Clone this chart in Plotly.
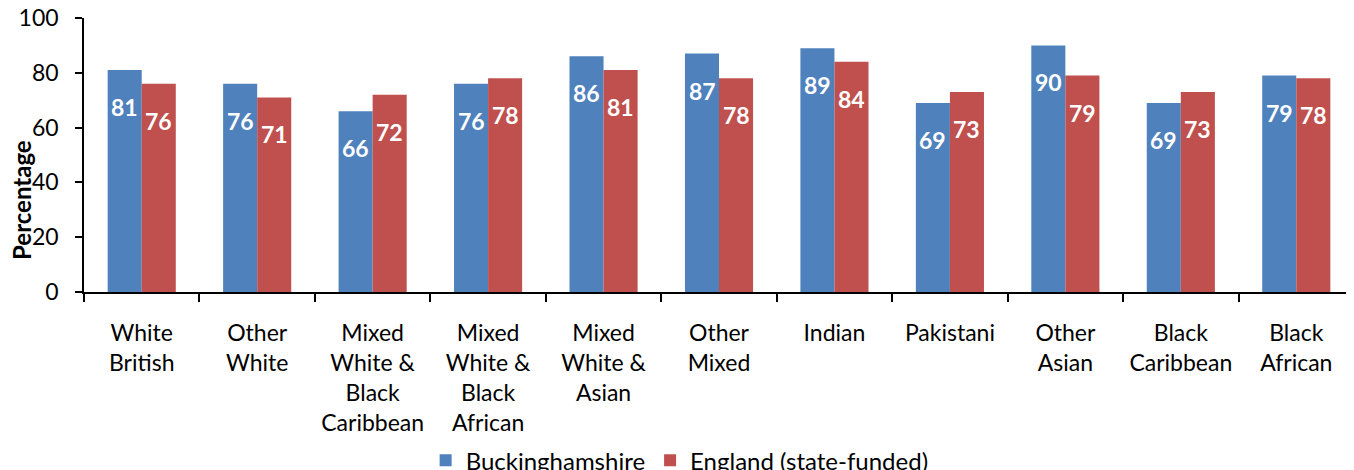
import plotly.graph_objects as go

categories = ["White<br>British", "Other<br>White", "Mixed<br>White &<br>Black<br>Caribbean",
              "Mixed<br>White &<br>Black<br>African", "Mixed<br>White &<br>Asian", "Other<br>Mixed",
              "Indian", "Pakistani", "Other<br>Asian", "Black<br>Caribbean", "Black<br>African"]
buckinghamshire = [81, 76, 66, 76, 86, 87, 89, 69, 90, 69, 79]
england = [76, 71, 72, 78, 81, 78, 84, 73, 79, 73, 78]
y_ticks = [0, 20, 40, 60, 80, 100]

BLUE = "#4F81BD"
RED = "#C0504D"
FONT = "Lato"

fig = go.Figure()
fig.add_trace(go.Bar(x=categories, y=buckinghamshire, name="Buckinghamshire",
                     marker=dict(color=BLUE, line=dict(width=0))))
fig.add_trace(go.Bar(x=categories, y=england, name="England (state-funded)",
                     marker=dict(color=RED, line=dict(width=0))))

annotations = []
for cat, v in zip(categories, buckinghamshire):
    annotations.append(dict(x=cat, y=v, xref="x", yref="y", text=str(v), showarrow=False,
                            xshift=-17, yshift=-37,
                            font=dict(family=FONT, size=23, color="white", weight="bold")))
for cat, v in zip(categories, england):
    annotations.append(dict(x=cat, y=v, xref="x", yref="y", text=str(v), showarrow=False,
                            xshift=17, yshift=-37,
                            font=dict(family=FONT, size=23, color="white", weight="bold")))
annotations.append(dict(x=-0.0488, y=0.336, xref="paper", yref="paper", text="Percentage",
                        textangle=-90, showarrow=False, xanchor="center", yanchor="middle",
                        font=dict(family=FONT, size=24, color="black", weight="bold")))

fig.update_layout(
    width=1354, height=470,
    margin=dict(l=76, r=8, t=10, b=186, autoexpand=False),
    paper_bgcolor="white", plot_bgcolor="white",
    barmode="group", bargap=0.41, bargroupgap=0,
    font=dict(family=FONT, size=23, color="black"),
    showlegend=True,
    legend=dict(orientation="h", x=0.469, xanchor="center", y=-0.533, yanchor="top",
                font=dict(family=FONT, size=24, color="black"), itemwidth=30,
                bgcolor="rgba(0,0,0,0)", tracegroupgap=0),
    annotations=annotations,
)
fig.update_xaxes(showline=True, linecolor="black", linewidth=1.5, ticks="outside",
                 tickson="boundaries", ticklen=8, tickcolor="black", tickwidth=1.5,
                 showgrid=False, tickangle=0, automargin=False, ticklabelstandoff=20,
                 ticklabeloverflow="allow",
                 tickfont=dict(family=FONT, size=23, color="black"))
fig.update_yaxes(range=[0, 100], tickvals=y_ticks, showline=True, linecolor="black",
                 linewidth=1.5, ticks="outside", ticklen=7, tickcolor="black", tickwidth=1.5,
                 showgrid=False, zeroline=False, automargin=False, ticklabelstandoff=12,
                 ticklabeloverflow="allow",
                 tickfont=dict(family=FONT, size=23, color="black"))

fig.write_html("out.html")
